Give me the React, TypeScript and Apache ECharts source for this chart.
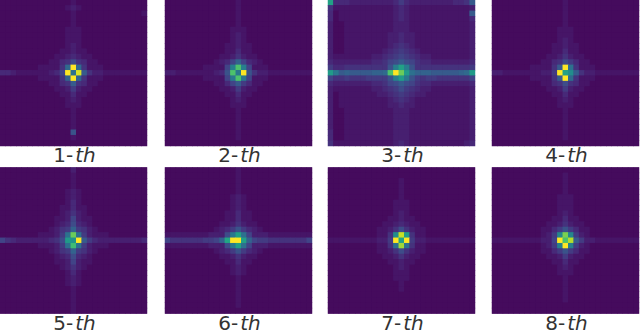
import React, { useEffect, useRef } from "react";
import * as echarts from "echarts";

const labels = ["1", "2", "3", "4", "5", "6", "7", "8"];
const viridis = ["#440154", "#482475", "#414487", "#355f8d", "#2a788e", "#21918c", "#22a884", "#44bf70", "#7ad151", "#bddf26", "#fde725"];
const levelMax = 35;

// Each row: 27 cells, levels 0..z (base 36); blanks only group the cells for reading.
const panel1 = [
  "111111111 1111 2 1111 111111111",
  "111111111 1112 3 2111 111111111",
  "111111111 1111 2 1111 111111112",
  "111111111 1111 2 1111 111111111",
  "111111111 1111 2 1111 111111111",
  "111111111 1112 2 2111 111111111",
  "111111111 1112 2 2111 111111111",
  "111111111 1112 2 2111 111111111",
  "111111111 1112 3 2111 111111111",
  "111111111 1122 3 2211 111111111",
  "111111111 1223 4 3221 111111111",
  "111111111 2245 8 5422 111111111",
  "111111122 225c z c522 211111111",
  "443222222 347z d xa53 322222222",
  "111111122 225b z b522 211111111",
  "111111111 2245 a 5422 111111111",
  "111111111 1223 6 3221 111111111",
  "111111111 1122 4 2211 111111111",
  "111111111 1112 3 2111 111111111",
  "111111111 1112 2 2111 111111111",
  "111111111 1111 2 1111 111111111",
  "111111111 1111 2 1111 111111111",
  "111111111 1111 2 1111 111111111",
  "111111111 1111 2 1111 111111111",
  "111111111 1111 9 1111 111111111",
  "111111111 1111 2 1111 111111111",
  "111111111 1111 1 1111 111111111",
];

const panel2 = [
  "111111111 1111 2 1111 111111111",
  "111111111 1111 2 1111 111111111",
  "111111111 1111 2 1111 111111111",
  "111111111 1111 2 1111 111111111",
  "111111111 1111 2 1111 111111111",
  "111111111 1112 2 2111 111111111",
  "111111111 1112 3 2111 111111111",
  "111111111 1112 3 2111 111111111",
  "111111111 1122 3 2211 111111111",
  "111111111 1122 4 2211 111111111",
  "111111111 1223 5 3221 111111111",
  "111111111 2347 b 7432 111111111",
  "111111122 227f p f722 211111111",
  "332222222 349p e z953 322222222",
  "111111122 227e p e722 211111111",
  "111111111 2247 a 6422 111111111",
  "111111111 1223 6 3221 111111111",
  "111111111 1122 4 2211 111111111",
  "111111111 1112 3 2111 111111111",
  "111111111 1112 2 2111 111111111",
  "111111111 1111 2 1111 111111111",
  "111111111 1111 2 1111 111111111",
  "111111111 1111 2 1111 111111111",
  "111111111 1111 2 1111 111111111",
  "111111111 1111 2 1111 111111111",
  "111111111 1111 2 1111 111111111",
  "111111111 1111 1 1111 111111111",
];

const panel3 = [
  "k44433333 3334 6 4333 33333445a",
  "522222222 2223 4 3222 222222223",
  "412222222 2223 4 3222 22222222a",
  "412222222 2223 4 3222 222222224",
  "311222222 2223 3 3222 222222223",
  "311222222 2223 3 3222 222222223",
  "311222222 2233 4 3322 222222223",
  "311222222 2233 4 3322 222222223",
  "311222222 2234 5 4322 222222223",
  "311222222 2345 6 5432 222222223",
  "322222223 3456 7 6543 322222223",
  "433333334 4578 a 8754 433333334",
  "644555555 559f k f955 555555556",
  "jeabaaaab bcpz r jdbb baaaaabcj",
  "755655566 669f j e965 665555557",
  "433333334 4578 a 8754 433333334",
  "322222223 3456 8 6543 322222223",
  "312222222 3345 6 5433 222222223",
  "312222222 2234 5 4322 222222223",
  "312222222 2233 4 3322 222222223",
  "311222222 2223 3 3222 222222223",
  "311222222 2223 3 3222 222222223",
  "311222222 2223 3 3222 222222223",
  "311222222 2223 3 3222 222222223",
  "411222222 2223 3 3222 222222223",
  "411222222 2223 3 3222 222222223",
  "522222222 2223 4 3222 222222234",
];

const panel4 = [
  "111111111 1111 2 1111 111111111",
  "111111111 1111 2 1111 111111111",
  "111111111 1111 2 1111 111111111",
  "111111111 1111 2 1111 111111111",
  "111111111 1111 2 1111 111111111",
  "111111111 1112 2 2111 111111111",
  "111111111 1112 2 2111 111111111",
  "111111111 1112 3 2111 111111111",
  "111111111 1122 3 2211 111111111",
  "111111111 1122 4 2211 111111111",
  "111111111 1223 5 3221 111111111",
  "111111111 2245 8 6422 111111111",
  "111111122 225a z d522 211111111",
  "332222222 336z k ha53 322222222",
  "111111122 225a z c522 211111111",
  "111111111 2245 8 5422 111111111",
  "111111111 1223 6 3221 111111111",
  "111111111 1122 4 2211 111111111",
  "111111111 1112 3 2111 111111111",
  "111111111 1112 2 2111 111111111",
  "111111111 1111 2 1111 111111111",
  "111111111 1111 2 1111 111111111",
  "111111111 1111 2 1111 111111111",
  "111111111 1111 2 1111 111111111",
  "111111111 1111 2 1111 111111111",
  "111111111 1111 2 1111 111111111",
  "111111111 1111 1 1111 111111111",
];

const panel5 = [
  "111111111 1111 3 1111 111111111",
  "111111111 1111 2 1111 111111111",
  "111111111 1111 2 1111 111111111",
  "111111111 1111 2 1111 111111111",
  "111111111 1112 3 2111 111111111",
  "111111111 1112 3 2111 111111111",
  "111111111 1112 4 2111 111111111",
  "111111111 1122 4 2211 111111111",
  "111111111 1123 5 3211 111111111",
  "111111111 1223 7 3221 111111111",
  "111111111 1234 8 4321 111111111",
  "111111111 2356 b 6532 111111111",
  "111111122 236d r d632 221111111",
  "754333333 458j i za64 333333334",
  "111111122 236d o d632 221111111",
  "111111111 2356 b 6532 111111111",
  "111111111 1234 8 4321 111111111",
  "111111111 1223 7 3221 111111111",
  "111111111 1123 5 3211 111111111",
  "111111111 1112 4 2111 111111111",
  "111111111 1112 3 2111 111111111",
  "111111111 1112 3 2111 111111111",
  "111111111 1111 2 1111 111111111",
  "111111111 1111 2 1111 111111111",
  "111111111 1111 2 1111 111111111",
  "111111111 1111 2 1111 111111111",
  "111111111 1111 2 1111 111111111",
];

const panel6 = [
  "111111111 1111 2 1111 111111111",
  "111111111 1111 2 1111 111111111",
  "111111111 1111 2 1111 111111111",
  "111111111 1111 2 1111 111111111",
  "111111111 1111 2 1111 111111111",
  "111111111 1112 3 2111 111111111",
  "111111111 1112 3 2111 111111111",
  "111111111 1112 3 2111 111111111",
  "111111111 1122 4 2211 111111111",
  "111111111 1122 4 2211 111111111",
  "111111111 1223 5 3221 111111111",
  "111111111 2346 9 6432 111111111",
  "222222223 338e k d733 322222222",
  "755555566 7blz z kb76 655555557",
  "222222223 338e k d733 322222222",
  "111111111 2346 9 6432 111111111",
  "111111111 1223 5 3221 111111111",
  "111111111 1122 4 2211 111111111",
  "111111111 1112 3 2111 111111111",
  "111111111 1112 3 2111 111111111",
  "111111111 1111 2 1111 111111111",
  "111111111 1111 2 1111 111111111",
  "111111111 1111 2 1111 111111111",
  "111111111 1111 2 1111 111111111",
  "111111111 1111 2 1111 111111111",
  "111111111 1111 2 1111 111111111",
  "111111111 1111 1 1111 111111111",
];

const panel7 = [
  "111111111 1111 1 1111 111111111",
  "111111111 1111 1 1111 111111111",
  "111111111 1111 2 1111 111111111",
  "111111111 1111 2 1111 111111111",
  "111111111 1111 2 1111 111111111",
  "111111111 1111 2 1111 111111111",
  "111111111 1112 2 2111 111111111",
  "111111111 1112 2 2111 111111111",
  "111111111 1112 3 2111 111111111",
  "111111111 1122 3 2211 111111111",
  "111111111 1223 4 3221 111111111",
  "111111111 2235 8 5322 111111111",
  "111111111 225h w j522 111111111",
  "222222222 336z k z633 222222222",
  "111111111 225d u d522 111111111",
  "111111111 2235 8 5322 111111111",
  "111111111 1223 5 3221 111111111",
  "111111111 1122 3 2211 111111111",
  "111111111 1112 3 2111 111111111",
  "111111111 1112 2 2111 111111111",
  "111111111 1112 2 2111 111111111",
  "111111111 1111 2 1111 111111111",
  "111111111 1111 2 1111 111111111",
  "111111111 1111 1 1111 111111111",
  "111111111 1111 1 1111 111111111",
  "111111111 1111 1 1111 111111111",
  "111111111 1111 1 1111 111111111",
];

const panel8 = [
  "111111111 1111 1 1111 111111111",
  "111111111 1111 2 1111 111111111",
  "111111111 1111 2 1111 111111111",
  "111111111 1111 2 1111 111111111",
  "111111111 1111 2 1111 111111111",
  "111111111 1112 2 2111 111111111",
  "111111111 1112 2 2111 111111111",
  "111111111 1112 2 2111 111111111",
  "111111111 1112 3 2111 111111111",
  "111111111 1122 4 2211 111111111",
  "111111111 1223 5 3221 111111111",
  "111111111 2246 9 6422 111111111",
  "111111111 236g s g632 111111111",
  "222222222 337z p va63 322222222",
  "111111111 236f z f632 111111111",
  "111111111 2246 9 6422 111111111",
  "111111111 1223 6 3221 111111111",
  "111111111 1122 4 2211 111111111",
  "111111111 1112 3 2111 111111111",
  "111111111 1112 2 2111 111111111",
  "111111111 1111 2 1111 111111111",
  "111111111 1111 2 1111 111111111",
  "111111111 1111 2 1111 111111111",
  "111111111 1111 2 1111 111111111",
  "111111111 1111 2 1111 111111111",
  "111111111 1111 1 1111 111111111",
  "111111111 1111 1 1111 111111111",
];

const panels = [panel1, panel2, panel3, panel4, panel5, panel6, panel7, panel8];
const panelLeft = [0, 165, 328, 492];
const panelTop = [0, 167.5];
const panelWidth = 147;
const panelHeight = 146;
const labelY = [156, 323.5];
const cells = Array.from({ length: 27 }, (_, i) => String(i));

const parse = (rows: string[]) =>
  rows.flatMap((row, y) =>
    row.replace(/ /g, "").split("").map((ch, x) => [x, y, parseInt(ch, 36)]),
  );

export default function App() {
  const ref = useRef<HTMLDivElement>(null);
  useEffect(() => {
    const chart = echarts.init(ref.current!, undefined, { renderer: "svg" });
    const at = (i: number) => ({ col: i % 4, row: Math.floor(i / 4) });
    chart.setOption({
      animation: false,
      backgroundColor: "#ffffff",
      grid: panels.map((_, i) => ({
        show: true,
        backgroundColor: "#460a5e",
        borderWidth: 0,
        left: panelLeft[at(i).col],
        top: panelTop[at(i).row],
        width: panelWidth,
        height: panelHeight,
      })),
      xAxis: panels.map((_, i) => ({ type: "category", gridIndex: i, data: cells, show: false })),
      yAxis: panels.map((_, i) => ({ type: "category", gridIndex: i, data: cells, show: false, inverse: true })),
      visualMap: {
        show: false,
        type: "continuous",
        min: 0,
        max: levelMax,
        seriesIndex: panels.map((_, i) => i),
        inRange: { color: viridis },
      },
      series: panels.map((rows, i) => ({
        type: "heatmap",
        xAxisIndex: i,
        yAxisIndex: i,
        data: parse(rows),
        progressive: 0,
        emphasis: { disabled: true },
        itemStyle: { borderWidth: 0 },
      })),
      title: panels.map((_, i) => ({
        text: `{n|${labels[i]}-}{i|th}`,
        left: panelLeft[at(i).col] + panelWidth / 2 + 1,
        top: labelY[at(i).row] - 11,
        textAlign: "center",
        padding: 0,
        textStyle: {
          fontWeight: "normal",
          rich: {
            n: { fontFamily: "DejaVu Sans", fontSize: 20, fontWeight: "normal", color: "#333333", padding: [0, 2, 0, 0] },
            i: { fontFamily: "DejaVu Sans", fontSize: 20, fontWeight: "normal", fontStyle: "italic", color: "#333333" },
          },
        },
      })),
    });
    return () => chart.dispose();
  }, []);
  return <div ref={ref} style={{ position: "fixed", left: 0, top: 0, width: 640, height: 334 }} />;
}
